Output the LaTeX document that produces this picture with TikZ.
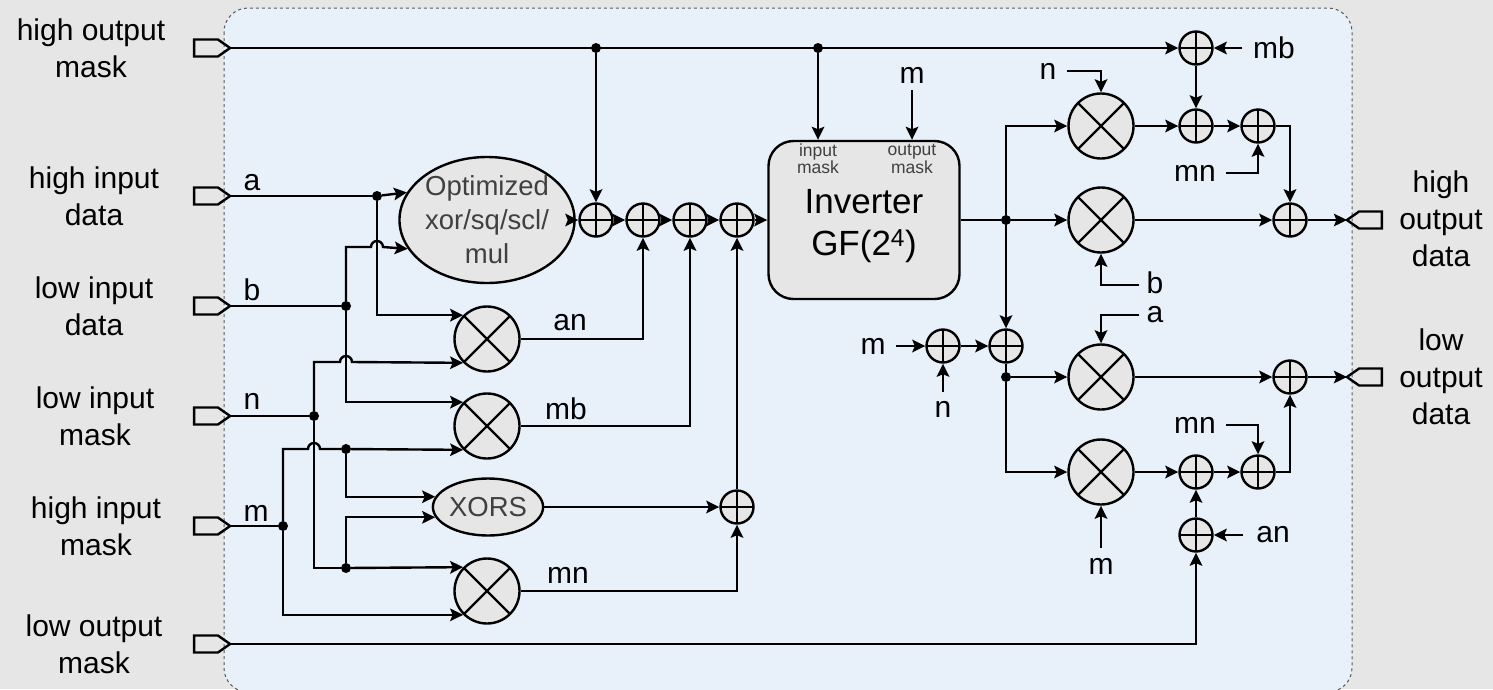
\documentclass[tikz,border=0pt]{standalone}
\usepackage{fontspec}
\setmainfont{Liberation Sans}
\usetikzlibrary{arrows.meta,shapes.geometric,shapes.symbols}
\definecolor{pagegray}{HTML}{E6E6E6}
\definecolor{panelblue}{HTML}{E8F1F9}
\definecolor{blockgray}{HTML}{E6E6E6}
\definecolor{blocktext}{HTML}{404040}
\tikzset{
    wire/.style={line width=2.4pt, line join=miter},
    wirearrow/.style={wire, -{Stealth[length=13pt,width=12.5pt,inset=2.5pt]}},
    txt/.style={font=\fontsize{30}{37}\selectfont, align=center, inner sep=0pt},
    pinin/.style={draw, line width=2.4pt, signal, signal to=east, signal pointer angle=70, minimum width=36pt, minimum height=17pt, inner sep=0pt, outer sep=0pt},
    pinout/.style={draw, line width=2.4pt, signal, signal to=west, signal pointer angle=70, minimum width=35pt, minimum height=17pt, inner sep=0pt, outer sep=0pt},
    dotnode/.style={fill=black, circle, inner sep=0pt, minimum size=10pt},
    xornode/.style={circle, draw, line width=2.4pt, fill=blockgray, minimum size=33pt, inner sep=0pt,
        path picture={\draw[line width=2pt] (path picture bounding box.north) -- (path picture bounding box.south)
            (path picture bounding box.west) -- (path picture bounding box.east);}},
    mulnode/.style={circle, draw, line width=2.4pt, fill=blockgray, minimum size=65pt, inner sep=0pt,
        path picture={\draw[line width=2.4pt] (path picture bounding box.north west) -- (path picture bounding box.south east)
            (path picture bounding box.north east) -- (path picture bounding box.south west);}},
    blocktxt/.style={text=blocktext, align=center},
}
\begin{document}
\begin{tikzpicture}[x=1pt, y=-1pt]
            \useasboundingbox (0,0) rectangle (1493,689);
            % backgrounds
            \fill[pagegray] (0,0) rectangle (1493,689);
            \draw[fill=panelblue, draw=black!65, dashed, line width=1pt, rounded corners=24pt] (224,8) rectangle (1352,692);
            % left pins
            \node[pinin] (pinhom) at (206,48) {};
            \node[pinin] (pina) at (206,196) {};
            \node[pinin] (pinb) at (206,306) {};
            \node[pinin] (pinn) at (206,416) {};
            \node[pinin] (pinm) at (206,526) {};
            \node[pinin] (pinlom) at (206,644) {};
            % right pins
            \node[pinout] (pinhod) at (1370.5,220) {};
            \node[pinout] (pinlod) at (1370.5,377) {};
            % pin labels
            \node[txt] (lblhom) at (91,48) {high output\\mask};
            \node[txt] (lblhid) at (94,196) {high input\\data};
            \node[txt] (lblb) at (94,306) {low input\\data};
            \node[txt] (lbllim) at (95,416) {low input\\mask};
            \node[txt] (lblhim) at (96,526) {high input\\mask};
            \node[txt] (lbllom) at (94,644) {low output\\mask};
            \node[txt] (lblhod) at (1441,219) {high\\output\\data};
            \node[txt] (lbllod) at (1441,377) {low\\output\\data};
            % big blocks
            \node[ellipse, draw, line width=2.4pt, fill=blockgray, minimum width=157pt, minimum height=126pt, inner sep=0pt, blocktxt, font=\fontsize{27.5}{34}\selectfont] (optim) at (487,220) {Optimized\\xor/sq/scl/\\mul};
            \node[ellipse, draw, line width=2.4pt, fill=blockgray, minimum width=110pt, minimum height=57pt, inner sep=0pt, blocktxt, font=\fontsize{27.5}{34}\selectfont] (xors) at (488,507) {XORS};
            \node[draw, line width=2.4pt, fill=blockgray, rounded corners=25pt, minimum width=191pt, minimum height=158pt, inner sep=0pt] (inv) at (864,220) {};
            \node[txt, font=\fontsize{35}{42}\selectfont] (invtxt) at (864,226) {Inverter\\GF(2\textsuperscript{4})};
            \node[blocktxt, inner sep=0pt, font=\fontsize{17.5}{15}\selectfont] (invin) at (818,159) {input\\mask};
            \node[blocktxt, inner sep=0pt, font=\fontsize{17.5}{15}\selectfont] (invout) at (912,159) {output\\mask};
            % left multipliers
            \node[mulnode] (mula) at (487,339) {};
            \node[mulnode] (mulb) at (487,426) {};
            \node[mulnode] (mulc) at (487,591) {};
            % right multipliers
            \node[mulnode] (muld) at (1101,126) {};
            \node[mulnode] (mule) at (1101,220) {};
            \node[mulnode] (mulf) at (1101,377) {};
            \node[mulnode] (mulg) at (1101,472) {};
            % adders in the middle row
            \node[xornode] (xa) at (596,220) {};
            \node[xornode] (xb) at (643,220) {};
            \node[xornode] (xc) at (690,220) {};
            \node[xornode] (xd) at (737,220) {};
            \node[xornode] (xe) at (737,507) {};
            % adders on the right
            \node[xornode] (xf) at (1196,48) {};
            \node[xornode] (xg) at (1196,126) {};
            \node[xornode] (xh) at (1258,126) {};
            \node[xornode] (xi) at (1290,220) {};
            \node[xornode] (xj) at (943,346) {};
            \node[xornode] (xk) at (1006,346) {};
            \node[xornode] (xl) at (1290,377) {};
            \node[xornode] (xm) at (1196,472) {};
            \node[xornode] (xn) at (1258,472) {};
            \node[xornode] (xo) at (1196,535) {};
            % junctions
            \node[dotnode] (dota) at (377,196) {};
            \node[dotnode] (dotb) at (346,306) {};
            \node[dotnode] (dotn) at (314,416) {};
            \node[dotnode] (dotm) at (283,526) {};
            \node[dotnode] (dotp) at (346,449) {};
            \node[dotnode] (dotq) at (346,568) {};
            \node[dotnode] (dott) at (596,48) {};
            \node[dotnode] (dotu) at (818,48) {};
            \node[dotnode] (dotv) at (1006,220) {};
            \node[dotnode] (dotw) at (1006,377) {};
            % wire names
            \node[txt] (lbla) at (252,183) {a};
            \node[txt] (lblbb) at (252,290) {b};
            \node[txt] (lbln) at (252,401) {n};
            \node[txt] (lblm) at (256,513) {m};
            \node[txt] (lblan) at (570,323) {an};
            \node[txt] (lblmb) at (566,409) {mb};
            \node[txt] (lblmn) at (568,575) {mn};
            \node[txt] (lblim) at (912,75) {m};
            \node[txt] (lbltn) at (1048,71) {n};
            \node[txt] (lbltmb) at (1274,48) {mb};
            \node[txt] (lbltmn) at (1195,173) {mn};
            \node[txt] (lbltb) at (1155,283) {b};
            \node[txt] (lblta) at (1155,315) {a};
            \node[txt] (lbljm) at (873,346) {m};
            \node[txt] (lbljn) at (943,409) {n};
            \node[txt] (lblbmn) at (1195,425) {mn};
            \node[txt] (lblbm) at (1101,566) {m};
            \node[txt] (lblban) at (1273,535) {an};
            % free ends
            \coordinate (endim) at (912,90);
            \coordinate (endtn) at (1067,71);
            \coordinate (endtmb) at (1242,48);
            \coordinate (endtmn) at (1226,173);
            \coordinate (endtb) at (1139,285);
            \coordinate (endta) at (1139,315);
            \coordinate (endjm) at (896,346);
            \coordinate (endjn) at (943,392);
            \coordinate (endbmn) at (1226,425);
            \coordinate (endbm) at (1101,548);
            \coordinate (endban) at (1243,535);
            % wire crossings
            \coordinate (hopa) at (377,247);
            \coordinate (hopb) at (346,362);
            \coordinate (hopc) at (314,449);
            % inputs on the left
            \draw[wire] (pina.east) -- (dota);
            \draw[wire] (pinb.east) -- (dotb);
            \draw[wire] (pinn.east) -- (dotn);
            \draw[wire] (pinm.east) -- (dotm);
            % a
            \draw[wirearrow] (dota) -- (optim.161.7);
            \draw[wirearrow] (dota) |- (mula.135);
            % b
            \draw[wirearrow] (dotb) |- ([xshift=-6pt]hopa) arc[start angle=180, end angle=0, radius=6pt] -- (optim.200.85);
            \draw[wirearrow] (dotb) |- (mulb.135);
            % n
            \draw[wirearrow] (dotn) |- ([xshift=-6pt]hopb) arc[start angle=180, end angle=0, radius=6pt] -- (mula.225);
            \draw[wire] (dotn) |- (dotq);
            \draw[wirearrow] (dotq) -- (mulc.135);
            \draw[wirearrow] (dotq) |- (xors.191);
            % m
            \draw[wire] (dotm) |- ([xshift=-6pt]hopc) arc[start angle=180, end angle=0, radius=6pt] -- (dotp);
            \draw[wirearrow] (dotp) -- (mulb.225);
            \draw[wirearrow] (dotp) |- (xors.169);
            \draw[wirearrow] (dotm) |- (mulc.225);
            % outputs of the left blocks
            \draw[wirearrow] (mula.east) -| (xb.south);
            \draw[wirearrow] (mulb.east) -| (xc.south);
            \draw[wirearrow] (mulc.east) -| (xe.south);
            \draw[wirearrow] (xors.east) -- (xe.west);
            \draw[wirearrow] (xe.north) -- (xd.south);
            % middle row
            \draw[wirearrow] (optim.east) -- (xa.west);
            \draw[wirearrow] (xa.east) -- (xb.west);
            \draw[wirearrow] (xb.east) -- (xc.west);
            \draw[wirearrow] (xc.east) -- (xd.west);
            \draw[wirearrow] (xd.east) -- (inv.west);
            % high output mask
            \draw[wirearrow] (pinhom.east) -- (xf.west);
            \draw[wirearrow] (dott) -- (xa.north);
            \draw[wirearrow] (dotu) -- (inv.north -| dotu);
            \draw[wirearrow] (endim) -- (inv.north -| endim);
            % inverter outputs
            \draw[wire] (inv.east |- dotv) -- (dotv);
            \draw[wirearrow] (dotv) -- (mule.west);
            \draw[wirearrow] (dotv) |- (muld.west);
            \draw[wirearrow] (dotv) -- (xk.north);
            \draw[wire] (xk.south) -- (dotw);
            \draw[wirearrow] (dotw) -- (mulf.west);
            \draw[wirearrow] (dotw) |- (mulg.west);
            \draw[wirearrow] (xj.east) -- (xk.west);
            \draw[wirearrow] (endjm) -- (xj.west);
            \draw[wirearrow] (endjn) -- (xj.south);
            % upper right
            \draw[wirearrow] (endtn) -| (muld.north);
            \draw[wirearrow] (muld.east) -- (xg.west);
            \draw[wirearrow] (endtmb) -- (xf.east);
            \draw[wirearrow] (xf.south) -- (xg.north);
            \draw[wirearrow] (xg.east) -- (xh.west);
            \draw[wirearrow] (endtmn) -| (xh.south);
            \draw[wirearrow] (xh.east) -| (xi.north);
            \draw[wirearrow] (mule.east) -- (xi.west);
            \draw[wirearrow] (endtb) -| (mule.south);
            \draw[wirearrow] (xi.east) -- (pinhod.west);
            % lower right
            \draw[wirearrow] (endta) -| (mulf.north);
            \draw[wirearrow] (mulf.east) -- (xl.west);
            \draw[wirearrow] (xl.east) -- (pinlod.west);
            \draw[wirearrow] (mulg.east) -- (xm.west);
            \draw[wirearrow] (endbm) -- (mulg.south);
            \draw[wirearrow] (xm.east) -- (xn.west);
            \draw[wirearrow] (endbmn) -| (xn.north);
            \draw[wirearrow] (xn.east) -| (xl.south);
            \draw[wirearrow] (xo.north) -- (xm.south);
            \draw[wirearrow] (endban) -- (xo.east);
            \draw[wirearrow] (pinlom.east) -| (xo.south);
        \end{tikzpicture}
\end{document}
